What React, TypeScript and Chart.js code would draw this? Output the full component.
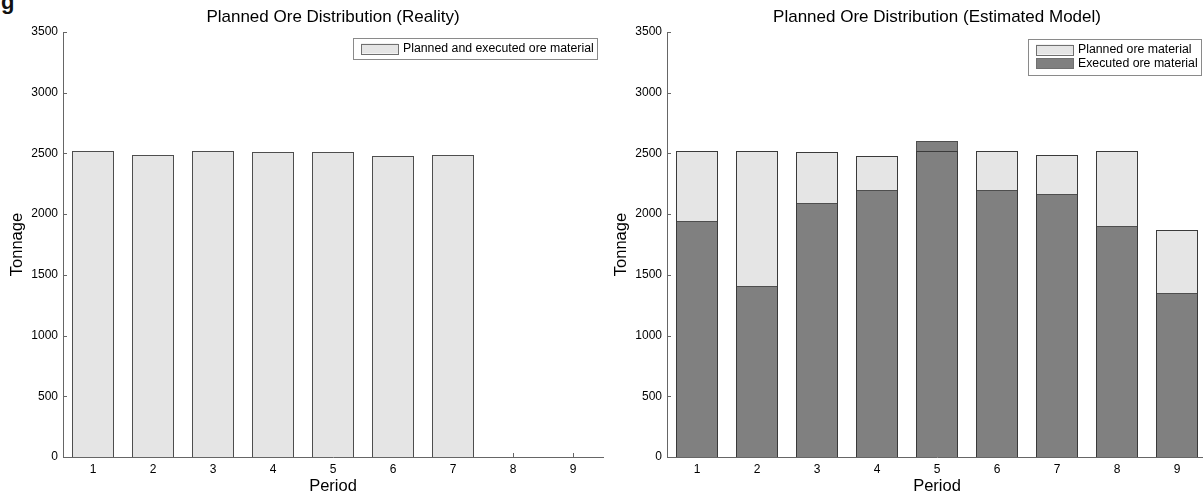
import React, { useEffect, useRef } from 'react';
import { Chart, registerables } from 'chart.js';

Chart.register(...registerables);

// ---------- data ----------
const periods = ['1', '2', '3', '4', '5', '6', '7', '8', '9'];
const realityPlannedExecuted = [2520, 2490, 2520, 2510, 2515, 2480, 2490, null, null];
const modelPlanned = [2520, 2520, 2515, 2475, 2520, 2520, 2490, 2520, 1870];
const modelExecuted = [1940, 1410, 2090, 2200, 2605, 2200, 2170, 1900, 1350];
const yMin = 0;
const yMax = 3500;
const yStep = 500;

const titleReality = 'Planned Ore Distribution (Reality)';
const titleModel = 'Planned Ore Distribution (Estimated Model)';
const legendReality = ['Planned and executed ore material'];
const legendModel = ['Planned ore material', 'Executed ore material'];
const yLabel = 'Tonnage';
const xLabel = 'Period';

// ---------- styles ----------
const LIGHT = '#e5e5e5';
const DARK = '#808080';
const EDGE = '#4e4e4e';
const AXIS = '#666666';
const TEXT = '#000000';
const FONT = '"Liberation Sans", Arial, Helvetica, sans-serif';

const CANVAS_W = 610;
const CANVAS_H = 497;

type LegendItem = { label: string; color: string };

const crisp = {
  id: 'crisp',
  beforeDatasetsDraw(chart: any) {
    chart.getSortedVisibleDatasetMetas().forEach((meta: any) => {
      meta.data.forEach((el: any) => {
        if (el && typeof el.y === 'number' && !isNaN(el.y)) el.y = Math.round(el.y);
        if (el && typeof el.base === 'number' && !isNaN(el.base)) el.base = Math.round(el.base);
      });
    });
  },
};

const decor = {
  id: 'decor',
  beforeDatasetsDraw(chart: any) {
    const ctx = chart.ctx;
    const { left, bottom } = chart.chartArea;
    const y = chart.scales.y;
    const x = chart.scales.x;
    ctx.save();
    ctx.strokeStyle = AXIS;
    ctx.lineWidth = 1;
    ctx.beginPath();
    y.ticks.forEach((_t: any, i: number) => {
      const py = Math.round(y.getPixelForTick(i)) + 0.5;
      ctx.moveTo(left, py);
      ctx.lineTo(left + 4, py);
    });
    x.ticks.forEach((_t: any, i: number) => {
      const px = Math.round(x.getPixelForTick(i)) + 0.5;
      ctx.moveTo(px, bottom);
      ctx.lineTo(px, bottom - 4);
    });
    ctx.stroke();
    ctx.restore();
  },
  afterDraw(chart: any, _a: any, opts: any) {
    const ctx = chart.ctx;
    const { left, right, top, bottom } = chart.chartArea;
    ctx.save();
    ctx.fillStyle = TEXT;
    // title
    ctx.font = `17px ${FONT}`;
    ctx.textAlign = 'center';
    ctx.textBaseline = 'alphabetic';
    ctx.fillText(opts.title, (left + right) / 2, 22);
    // x label
    ctx.font = `16.5px ${FONT}`;
    ctx.fillText(opts.xLabel, (left + right) / 2, 491);
    // y label
    ctx.save();
    ctx.translate(left - 46, (top + bottom) / 2);
    ctx.rotate(-Math.PI / 2);
    ctx.textBaseline = 'middle';
    ctx.fillText(opts.yLabel, 0, 0);
    ctx.restore();
    // legend
    const items: LegendItem[] = opts.legend;
    const fs = 12.3;
    ctx.font = `${fs}px ${FONT}`;
    const maxW = Math.max(...items.map((it) => ctx.measureText(it.label).width));
    const bx = opts.legendX;
    const by = opts.legendY;
    const rowH = 13.5;
    const bh = opts.legendH;
    const swX = bx + 8;
    const swW = 37;
    const txX = swX + swW + 5;
    const bw = txX + maxW + 3 - bx;
    ctx.fillStyle = '#ffffff';
    ctx.fillRect(bx, by, bw, bh);
    ctx.strokeStyle = '#8a8a8a';
    ctx.lineWidth = 1;
    ctx.strokeRect(Math.round(bx) + 0.5, Math.round(by) + 0.5, Math.round(bw), Math.round(bh));
    items.forEach((it, i) => {
      const cy = by + opts.legendFirst + i * rowH;
      ctx.fillStyle = it.color;
      ctx.fillRect(swX, cy - 5, swW, 10);
      ctx.strokeStyle = '#707070';
      ctx.strokeRect(Math.round(swX) + 0.5, Math.round(cy - 5) + 0.5, swW, 10);
      ctx.fillStyle = TEXT;
      ctx.textAlign = 'left';
      ctx.textBaseline = 'middle';
      ctx.fillText(it.label, txX, cy + 0.5);
    });
    ctx.restore();
  },
};

function makeOptions(plotLeft: number, plotRight: number, decorOpts: any): any {
  return {
    responsive: false,
    animation: false,
    devicePixelRatio: 1,
    layout: { padding: { top: 32, left: 0, right: CANVAS_W - plotRight, bottom: 0 } },
    datasets: { bar: { grouped: false, categoryPercentage: 1, barPercentage: 0.7, inflateAmount: 0 } },
    plugins: {
      legend: { display: false },
      title: { display: false },
      tooltip: { enabled: false },
      decor: decorOpts,
    },
    scales: {
      x: {
        type: 'category',
        offset: true,
        grid: { display: true, drawOnChartArea: false, drawTicks: false },
        border: { display: true, color: AXIS, width: 1 },
        ticks: { color: TEXT, font: { family: FONT, size: 12 }, padding: 5, maxRotation: 0 },
        afterFit: (s: any) => {
          s.height = CANVAS_H - 457;
        },
      },
      y: {
        min: yMin,
        max: yMax,
        grid: { display: true, drawOnChartArea: false, drawTicks: false },
        border: { display: true, color: AXIS, width: 1 },
        ticks: {
          stepSize: yStep,
          color: TEXT,
          font: { family: FONT, size: 12 },
          padding: 5,
          callback: (v: any) => String(v),
        },
        afterFit: (s: any) => {
          s.width = plotLeft;
        },
      },
    },
  };
}

export default function App() {
  const leftRef = useRef<HTMLCanvasElement>(null);
  const rightRef = useRef<HTMLCanvasElement>(null);

  useEffect(() => {
    const c1 = new Chart(leftRef.current as HTMLCanvasElement, {
      type: 'bar',
      data: {
        labels: periods,
        datasets: [
          {
            label: legendReality[0],
            data: realityPlannedExecuted as any,
            backgroundColor: LIGHT,
            borderColor: EDGE,
            borderWidth: 1,
          },
        ],
      },
      options: makeOptions(63, 603, {
        title: titleReality,
        xLabel,
        yLabel,
        legend: [{ label: legendReality[0], color: LIGHT }],
        legendX: 353,
        legendY: 38,
        legendH: 21,
        legendFirst: 10.5,
      }),
      plugins: [crisp as any, decor as any],
    });

    const off = 605;
    const c2 = new Chart(rightRef.current as HTMLCanvasElement, {
      type: 'bar',
      data: {
        labels: periods,
        datasets: [
          {
            label: legendModel[0],
            data: modelPlanned,
            backgroundColor: LIGHT,
            borderColor: EDGE,
            borderWidth: 1,
            order: 2,
          },
          {
            label: legendModel[1],
            data: modelExecuted,
            backgroundColor: DARK,
            borderColor: EDGE,
            borderWidth: 1,
            order: 1,
          },
          {
            label: '',
            data: modelPlanned,
            backgroundColor: 'rgba(0,0,0,0)',
            borderColor: '#3a3a3a',
            borderWidth: 1,
            order: 0,
          },
        ],
      },
      options: makeOptions(667 - off, 1207 - off, {
        title: titleModel,
        xLabel,
        yLabel,
        legend: [
          { label: legendModel[0], color: LIGHT },
          { label: legendModel[1], color: DARK },
        ],
        legendX: 1028 - off,
        legendY: 39,
        legendH: 36,
        legendFirst: 10.5,
      }),
      plugins: [crisp as any, decor as any],
    });

    return () => {
      c1.destroy();
      c2.destroy();
    };
  }, []);

  return (
    <div
      style={{
        position: 'fixed',
        left: 0,
        top: 0,
        width: 1203,
        height: 497,
        overflow: 'hidden',
        background: '#ffffff',
      }}
    >
      <div
        style={{
          position: 'absolute',
          left: 1,
          top: -9,
          font: `bold 22px ${FONT}`,
          lineHeight: '22px',
          color: '#111',
        }}
      >
        g
      </div>
      <canvas
        ref={leftRef}
        width={CANVAS_W}
        height={CANVAS_H}
        style={{ position: 'absolute', left: 0, top: 0, width: CANVAS_W, height: CANVAS_H }}
      />
      <canvas
        ref={rightRef}
        width={CANVAS_W}
        height={CANVAS_H}
        style={{ position: 'absolute', left: 605, top: 0, width: CANVAS_W, height: CANVAS_H }}
      />
    </div>
  );
}
